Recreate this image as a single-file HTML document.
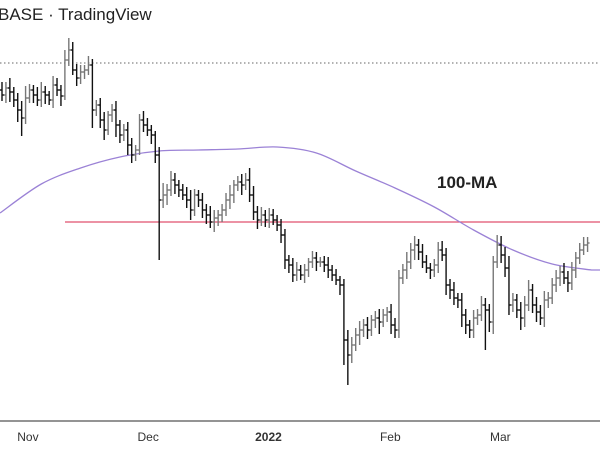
<!DOCTYPE html>
<html><head><meta charset="utf-8"><style>
html,body{margin:0;padding:0;background:#fff;width:600px;height:450px;overflow:hidden}
svg{display:block;font-family:"Liberation Sans",sans-serif}
</style></head><body>
<svg id="chart" width="600" height="450">
<text x="-2" y="20" font-size="17" fill="#222">BASE · TradingView</text>
<text x="437" y="188" font-size="17" font-weight="bold" fill="#222">100-MA</text>
<g id="lines"></g><g id="bars"></g><g id="axis"></g>
</svg>
<script>
const closes=[405,412,408,400,390,382,402,410,405,400,408,405,400,415,410,404,
440,450,430,422,428,430,435,
390,395,380,370,385,390,375,365,370,355,345,350,380,375,370,365,345,
300,305,310,320,315,310,305,300,290,305,300,290,285,278,282,285,290,300,305,315,318,315,320,305,288,280,285,280,285,280,275,265,
240,235,225,230,225,230,238,242,238,238,235,230,225,220,215,
160,145,155,165,170,175,170,180,182,178,185,188,175,170,
222,230,238,250,255,248,238,232,230,235,250,245,215,210,202,200,185,175,170,182,185,195,190,178,
238,255,245,232,195,200,190,182,195,210,195,188,182,200,202,215,222,228,222,217,230,242,250,255,257];
const highExt=[8,6,10,5,7,9,12,6,5,8,10,6,4,9,7,5,
10,12,8,6,7,5,9,
6,5,7,8,4,6,9,5,6,8,7,5,6,9,7,5,4,
8,12,6,9,7,5,6,8,10,6,5,7,6,9,8,5,6,7,10,5,6,8,7,12,9,6,8,5,7,6,5,6,
6,5,7,8,5,6,4,7,6,5,6,8,5,6,4,
6,10,8,7,9,6,8,5,7,9,6,5,8,7,
8,6,10,7,9,6,8,7,5,6,8,9,7,6,8,5,7,6,5,8,6,9,7,6,
6,10,9,8,12,7,6,8,9,10,6,8,7,9,6,7,8,6,9,7,8,6,7,8,6];
const lowExt=[6,8,10,7,12,18,6,5,8,6,7,9,5,8,6,10,
4,6,5,8,6,7,5,
18,6,8,10,5,7,12,8,6,10,8,6,5,7,6,9,8,
60,8,10,6,9,7,5,8,10,6,7,8,9,6,10,8,7,6,9,8,6,10,5,7,8,9,6,7,8,5,6,8,
9,8,7,6,5,8,7,6,9,5,7,8,6,5,10,
25,30,8,6,10,7,9,6,8,12,5,7,9,8,
8,6,9,7,10,8,6,5,9,7,8,6,10,9,7,8,12,9,8,8,7,6,40,10,
12,6,8,9,10,7,8,12,9,6,8,10,7,9,8,6,7,8,6,9,7,8,6,5,7];
const maBars=[0,10,20,30,40,50,60,70,80,90,100,110,120,130,140,150];
const maValues=[287,316,332,343,349,350,351,353,347,329,312,293,270,250,236,230];
const tickLabels=["Nov","Dec","2022","Feb","Mar"];
const tickBars=[6.6,37.2,67.8,98.8,126.8];
const dottedLevel=437, redLevel=278;

const xS=i=>2+i*3.93;
const yS=p=>500-p;
const NS="http://www.w3.org/2000/svg";
function mk(t,a,p){const e=document.createElementNS(NS,t);for(const k in a)e.setAttribute(k,a[k]);p.appendChild(e);return e;}
const L=document.getElementById('lines'),B=document.getElementById('bars'),A=document.getElementById('axis');
const dl=mk('line',{x1:0,x2:600,y1:yS(dottedLevel),y2:yS(dottedLevel),stroke:'#666','stroke-width':1,'stroke-dasharray':'1.5,2.5'},L);


const rl=mk('line',{x1:65,x2:600,y1:yS(redLevel),y2:yS(redLevel),stroke:'#e0506e','stroke-width':1.3},L);


const pts=maBars.map((b,i)=>[xS(b),yS(maValues[i])]);
pts[0][0]=0;
let d='M'+pts[0][0]+','+pts[0][1];
for(let i=0;i<pts.length-1;i++){const p0=pts[Math.max(0,i-1)],p1=pts[i],p2=pts[i+1],p3=pts[Math.min(pts.length-1,i+2)];
d+=` C${p1[0]+(p2[0]-p0[0])/6},${p1[1]+(p2[1]-p0[1])/6} ${p2[0]-(p3[0]-p1[0])/6},${p2[1]-(p3[1]-p1[1])/6} ${p2[0]},${p2[1]}`;}
const ma=mk('path',{d:d+' L600,'+pts[pts.length-1][1],fill:'none',stroke:'#9b82d6','stroke-width':1.3},L);


closes.forEach((c,i)=>{
  const o=i>0?closes[i-1]:c+5;
  const h=Math.max(o,c)+highExt[i], l=Math.min(o,c)-lowExt[i];
  const x=xS(i), col=c>=o?'#777':'#111';
  const g=mk('g',{stroke:col,'stroke-width':1.4},B);
  
  
  mk('line',{x1:x,x2:x,y1:yS(h),y2:yS(l)},g);
  mk('line',{x1:x-2,x2:x,y1:yS(o),y2:yS(o)},g);
  mk('line',{x1:x,x2:x+2,y1:yS(c),y2:yS(c)},g);
});
const ax=mk('line',{x1:0,x2:600,y1:421,y2:421,stroke:'#555','stroke-width':1.2},A);


tickLabels.forEach((t,i)=>{
  const e=mk('text',{x:xS(tickBars[i]),y:441,'text-anchor':'middle','font-size':12,fill:'#333','font-weight':t==='2022'?'bold':'normal'},A);
  e.textContent=t;
  
  
});
</script>
</body></html>
